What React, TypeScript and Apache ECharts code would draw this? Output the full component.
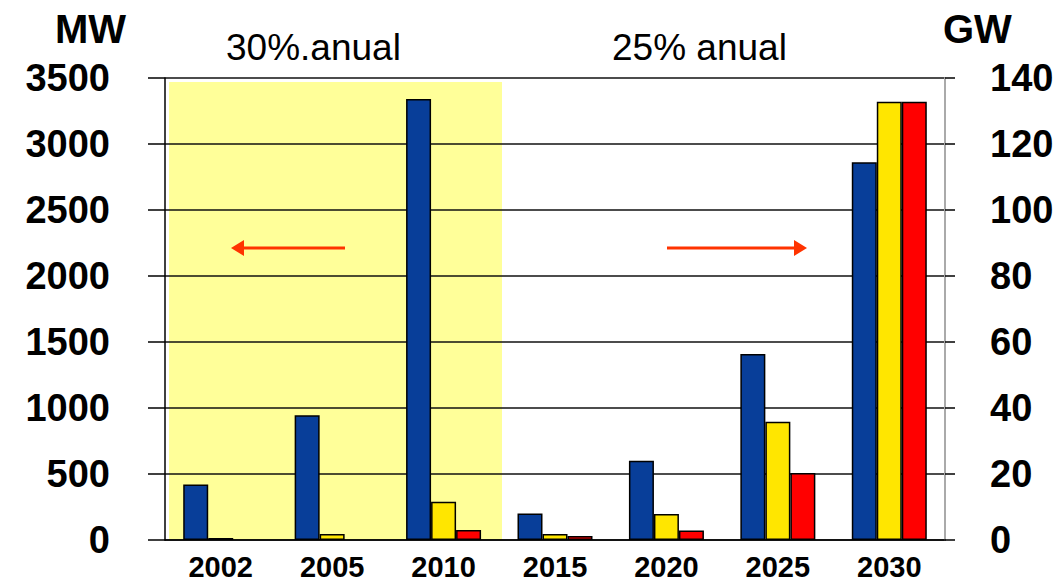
import React, { useEffect, useRef } from "react";
import * as echarts from "echarts";

const categories = ["2002", "2005", "2010", "2015", "2020", "2025", "2030"];
// Left axis (MW) – 2002..2010
const mwBlue = [420, 945, 3340];
const mwYellow = [15, 45, 290];
const mwRed: (number | string)[] = ["-", "-", 75];
// Right axis (GW) – 2015..2030
const gwBlue = [8, 24, 56.4, 114.5];
const gwYellow = [1.8, 7.9, 35.8, 132.8];
const gwRed = [1.2, 2.9, 20.3, 132.8];

const leftTicks = { min: 0, max: 3500, interval: 500 };
const rightTicks = { min: 0, max: 140, interval: 20 };

const BLUE = "#083e99";
const YELLOW = "#ffe600";
const RED = "#ff0000";
const FONT = "'Liberation Sans', Arial, sans-serif";

const pad = (arr: (number | string)[], before: number, after: number) => [
  ...Array(before).fill("-"),
  ...arr,
  ...Array(after).fill("-"),
];

export default function App() {
  const ref = useRef<HTMLDivElement>(null);
  useEffect(() => {
    if (!ref.current) return;
    const chart = echarts.init(ref.current, undefined, { renderer: "svg" });
    const barCommon = {
      type: "bar" as const,
      barWidth: 25,
      barGap: "0%",
      itemStyle: { borderColor: "#000", borderWidth: 1.5 },
    };
    chart.setOption({
      animation: false,
      backgroundColor: "#ffffff",
      textStyle: { fontFamily: FONT },
      grid: { left: 165, right: 118, top: 78, bottom: 46 },
      xAxis: [
        {
          type: "category",
          data: categories,
          axisLine: { lineStyle: { color: "#000", width: 1.5 } },
          axisTick: { show: false },
          axisLabel: {
            color: "#000",
            fontSize: 29,
            fontWeight: "bold",
            fontFamily: FONT,
            margin: 12,
          },
        },
        { type: "category", data: categories, show: false },
      ],
      yAxis: [
        {
          type: "value",
          ...leftTicks,
          position: "left",
          axisLine: { show: true, lineStyle: { color: "#000", width: 1.5 } },
          axisTick: { show: true, length: 17, lineStyle: { color: "#000", width: 1.5 } },
          splitLine: { show: true, lineStyle: { color: "#111", width: 1.5 } },
          axisLabel: {
            color: "#000",
            fontSize: 38,
            fontWeight: "bold",
            fontFamily: FONT,
            margin: 55,
            formatter: (v: number) => String(v),
          },
        },
        {
          type: "value",
          ...rightTicks,
          position: "right",
          axisLine: { show: true, lineStyle: { color: "#aaaaaa", width: 2 } },
          axisTick: { show: true, length: 10, lineStyle: { color: "#000", width: 1.5 } },
          splitLine: { show: false },
          axisLabel: {
            color: "#000",
            fontSize: 38,
            fontWeight: "bold",
            fontFamily: FONT,
            margin: 45,
            formatter: (v: number) => String(v),
          },
        },
      ],
      series: [
        { ...barCommon, name: "blue MW", xAxisIndex: 0, yAxisIndex: 0, data: pad(mwBlue, 0, 4), itemStyle: { ...barCommon.itemStyle, color: BLUE } },
        { ...barCommon, name: "yellow MW", xAxisIndex: 0, yAxisIndex: 0, data: pad(mwYellow, 0, 4), itemStyle: { ...barCommon.itemStyle, color: YELLOW } },
        { ...barCommon, name: "red MW", xAxisIndex: 0, yAxisIndex: 0, data: pad(mwRed, 0, 4), itemStyle: { ...barCommon.itemStyle, color: RED } },
        { ...barCommon, name: "blue GW", xAxisIndex: 1, yAxisIndex: 1, data: pad(gwBlue, 3, 0), itemStyle: { ...barCommon.itemStyle, color: BLUE } },
        { ...barCommon, name: "yellow GW", xAxisIndex: 1, yAxisIndex: 1, data: pad(gwYellow, 3, 0), itemStyle: { ...barCommon.itemStyle, color: YELLOW } },
        { ...barCommon, name: "red GW", xAxisIndex: 1, yAxisIndex: 1, data: pad(gwRed, 3, 0), itemStyle: { ...barCommon.itemStyle, color: RED } },
      ],
      graphic: [
        {
          type: "rect",
          z: -10,
          silent: true,
          shape: { x: 169, y: 82, width: 333, height: 458 },
          style: { fill: "#ffff99" },
        },
        {
          type: "line",
          z: 5,
          shape: { x1: 345, y1: 248, x2: 240, y2: 248 },
          style: { stroke: "#ff3300", lineWidth: 3 },
        },
        {
          type: "polygon",
          z: 5,
          shape: { points: [[231, 248], [244, 240], [244, 256]] },
          style: { fill: "#ff3300" },
        },
        {
          type: "line",
          z: 5,
          shape: { x1: 667, y1: 248, x2: 797, y2: 248 },
          style: { stroke: "#ff3300", lineWidth: 3 },
        },
        {
          type: "polygon",
          z: 5,
          shape: { points: [[807, 248], [794, 240], [794, 256]] },
          style: { fill: "#ff3300" },
        },
        {
          type: "text",
          x: 55,
          y: 29,
          style: { text: "MW", font: `bold 40px ${FONT}`, fill: "#000", textVerticalAlign: "middle" },
        },
        {
          type: "text",
          x: 943,
          y: 29,
          style: { text: "GW", font: `bold 40px ${FONT}`, fill: "#000", textVerticalAlign: "middle" },
        },
        {
          type: "text",
          x: 226,
          y: 47,
          style: { text: "30%.anual", font: `37px ${FONT}`, fill: "#000", textVerticalAlign: "middle" },
        },
        {
          type: "text",
          x: 612,
          y: 47,
          style: { text: "25% anual", font: `37px ${FONT}`, fill: "#000", textVerticalAlign: "middle" },
        },
      ],
    });
    return () => chart.dispose();
  }, []);
  return (
    <div
      ref={ref}
      style={{ position: "absolute", left: 0, top: 0, width: 1063, height: 586 }}
    />
  );
}
